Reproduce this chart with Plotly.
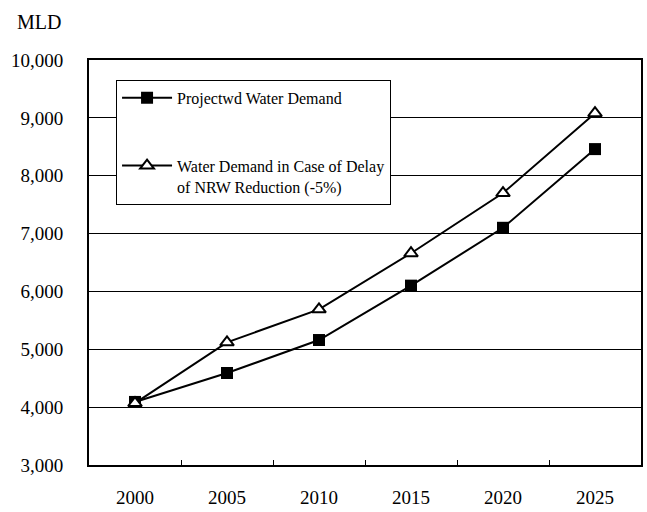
import plotly.graph_objects as go

years = ["2000", "2005", "2010", "2015", "2020", "2025"]
projected = [4090, 4590, 5160, 6100, 7100, 8460]
delayed_nrw = [4070, 5120, 5690, 6660, 7700, 9080]
y_ticks = [3000, 4000, 5000, 6000, 7000, 8000, 9000, 10000]
y_tick_text = ["3,000", "4,000", "5,000", "6,000", "7,000", "8,000", "9,000", "10,000"]

serif = "Liberation Serif"

fig = go.Figure()
fig.add_trace(go.Scatter(
    x=years, y=projected, mode="lines+markers",
    name="Projectwd Water Demand", legendgroup="a",
    line=dict(color="black", width=2),
    marker=dict(symbol="square", size=12, color="black"),
))
fig.add_trace(go.Scatter(
    x=years, y=delayed_nrw, mode="lines+markers",
    name="Water Demand in Case of Delay<br>of NRW Reduction (-5%)", legendgroup="b",
    line=dict(color="black", width=2),
    marker=dict(symbol="triangle-up", size=12, color="white",
                line=dict(color="black", width=2)),
))

fig.update_layout(
    width=647, height=512,
    margin=dict(l=89, r=4, t=60, b=41),
    paper_bgcolor="white", plot_bgcolor="white",
    font=dict(family=serif, color="black", size=19),
    showlegend=True,
    legend=dict(
        x=0.049, y=0.951, xanchor="left", yanchor="top",
        bgcolor="white", bordercolor="black", borderwidth=1,
        font=dict(family=serif, size=16, color="black"),
        tracegroupgap=44, itemwidth=50, valign="top",
    ),
    xaxis=dict(
        type="category", range=[-0.5, 5.5],
        showline=True, linecolor="black", linewidth=2, mirror=True,
        ticks="inside", ticklen=5, tickcolor="black", tickson="boundaries",
        showgrid=False, ticklabelstandoff=14,
        tickfont=dict(family=serif, size=19),
    ),
    yaxis=dict(
        range=[3000, 10000], tickvals=y_ticks, ticktext=y_tick_text,
        showline=True, linecolor="black", linewidth=2, mirror=True,
        ticks="inside", ticklen=5, tickcolor="black",
        showgrid=True, gridcolor="black", gridwidth=1,
        zeroline=False, ticklabelstandoff=20,
        tickfont=dict(family=serif, size=19),
    ),
    annotations=[dict(
        text="MLD", xref="paper", yref="paper",
        x=-0.134, y=1.095, xanchor="left", yanchor="middle",
        showarrow=False, font=dict(family=serif, size=20, color="black"),
    )],
)

fig.write_html("out.html")
